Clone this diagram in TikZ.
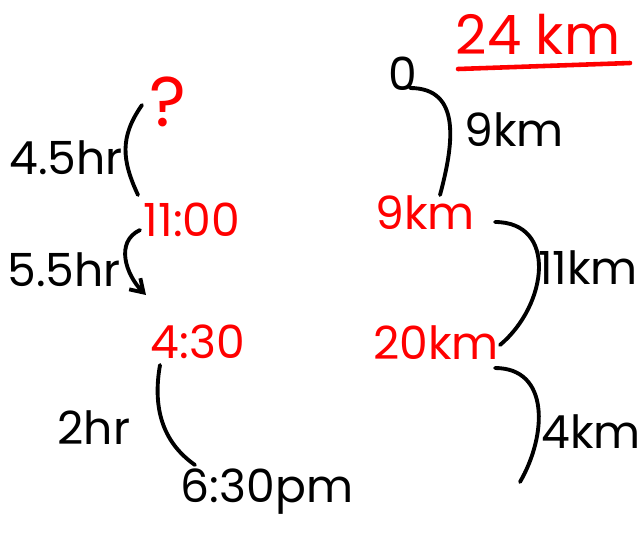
\documentclass[tikz,border=0pt]{standalone}
\usepackage{fontspec}
\setmainfont{Poppins}
\usepackage{tikz}
\usetikzlibrary{arrows.meta, positioning}

\begin{document}
\begin{tikzpicture}[
    x=0.02cm, y=0.02cm,
    hand/.style={inner sep=1pt, font=\fontsize{26}{28}\selectfont},
    val/.style={hand, text=red},
    pen/.style={line width=2.2pt, line cap=round},
    arrow/.style={pen, -{Straight Barb[length=7pt, width=9pt]}}
]
\useasboundingbox (0,0) rectangle (639,-542);

% Total distance
\node[val, font=\fontsize{31}{33}\selectfont] (total) at (538,-34) {24 km};
\draw[red, line width=2.6pt, line cap=round]
    ([shift={(-80,-35)}]total.center) -- ([shift={(92,-29)}]total.center);

% Times (left column)
\node[val, font=\fontsize{40}{42}\selectfont] (q) at (168,-102) {?};
\node[val] (t1) at (192,-220) {11:00};
\node[val] (t2) at (198,-342) {4:30};
\node[hand] (t3) at (267,-492) {6:30pm};

% Distances (right column)
\node[hand] (d0) at (403,-74) {0};
\node[val] (d1) at (425,-213) {9km};
\node[val] (d2) at (436,-343) {20km};
\coordinate (dend) at (520,-482);

% Connectors
\draw[pen] ([shift={(-26,-3)}]q.center) to[out=235, in=115, looseness=1.1] ([shift={(-54,25)}]t1.center);
\draw[arrow] ([shift={(-52,-10)}]t1.center) to[out=205, in=135, looseness=1.1] ([shift={(-52,47)}]t2.center);
\draw[pen] ([shift={(-38,-23)}]t2.center) to[out=260, in=145] ([shift={(-72,27)}]t3.center);
\draw[pen] ([shift={(7,-14)}]d0.center) to[out=0, in=75, looseness=1.2] ([shift={(15,18)}]d1.center);
\draw[pen] ([shift={(70,-9)}]d1.center) to[out=0, in=40, looseness=1.3] ([shift={(64,-2)}]d2.center);
\draw[pen] ([shift={(59,-25)}]d2.center) to[out=0, in=60, looseness=1.2] (dend);

% Labels
\node[hand] (lbl45) at (66,-158) {4.5hr};
\node[hand] (lbl55) at (64,-270) {5.5hr};
\node[hand] (lbl2) at (94,-428) {2hr};
\node[hand] (lbl9) at (514,-130) {9km};
\node[hand] (lbl11) at (588,-268) {11km};
\node[hand] (lbl4) at (591,-432) {4km};

\end{tikzpicture}
\end{document}
